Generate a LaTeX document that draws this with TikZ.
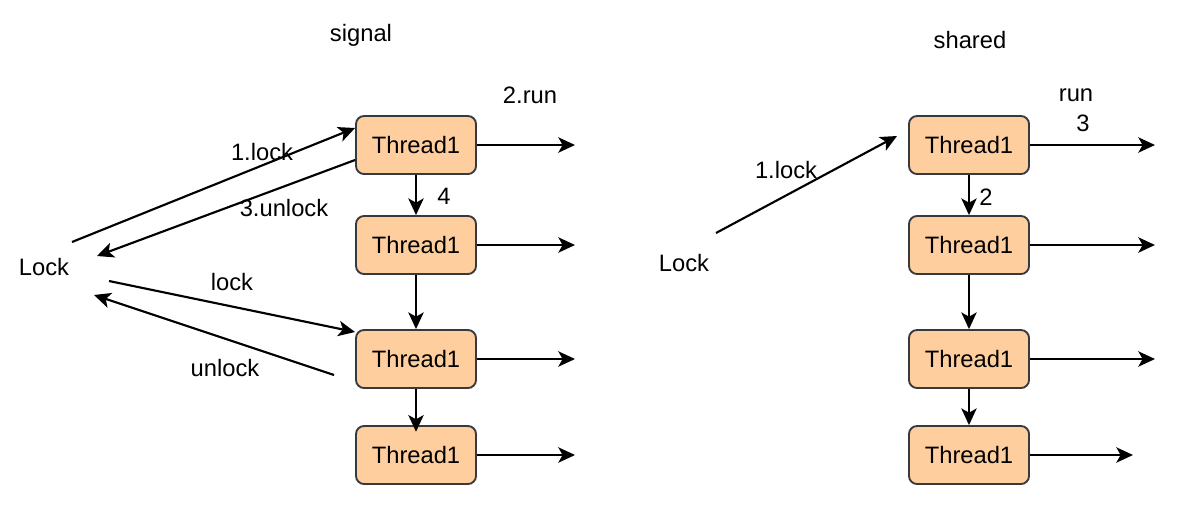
\documentclass[tikz,border=0pt]{standalone}
\usepackage{fontspec}
\setmainfont{Liberation Sans}
\usetikzlibrary{arrows.meta}
\definecolor{boxfill}{HTML}{FFCE9F}
\definecolor{boxline}{HTML}{36393D}
\begin{document}
\begin{tikzpicture}[x=0.75pt,y=-0.75pt,
  tbox/.style={draw=boxline,fill=boxfill,line width=1.4pt,rounded corners=6pt,
    minimum width=90pt,minimum height=43.5pt,inner sep=0pt,
    font=\fontsize{17.8}{20}\selectfont},
  lbl/.style={inner sep=0pt,font=\fontsize{17.8}{20}\selectfont},
  arr/.style={-{Stealth[length=12.5pt,width=11.5pt,inset=3.2pt]},line width=1.6pt,black}]
\useasboundingbox (0,0) rectangle (1196,526);
% titles
\node[lbl] (tsig) at (361,35) {signal};
\node[lbl] (tsha) at (970,40) {shared};
% left boxes
\node[tbox] (b1) at (416,145) {Thread1};
\node[tbox] (b2) at (416,245) {Thread1};
\node[tbox] (b3) at (416,359) {Thread1};
\node[tbox] (b4) at (416,455) {Thread1};
% right boxes
\node[tbox] (c1) at (969,145) {Thread1};
\node[tbox] (c2) at (969,245) {Thread1};
\node[tbox] (c3) at (969,359) {Thread1};
\node[tbox] (c4) at (969,455) {Thread1};
% left labels
\node[lbl] (lockL) at (44,267) {Lock};
\node[lbl] (run2) at (530,95) {2.run};
\node[lbl] (lk1) at (262,152) {1.lock};
\node[lbl] (ul3) at (284,208) {3.unlock};
\node[lbl] (lk) at (232,282) {lock};
\node[lbl] (ul) at (225,368) {unlock};
\node[lbl] (n4) at (444,196) {4};
% right labels
\node[lbl] (lockR) at (684,263) {Lock};
\node[lbl] (rlk1) at (786,170) {1.lock};
\node[lbl] (rrun) at (1076,95) {run};
\node[lbl] (r3) at (1083,123) {3};
\node[lbl] (r2) at (986,197) {2};
% free coordinates
\coordinate (l1s) at (72,242);
\coordinate (u3e) at (97,256);
\coordinate (l2s) at (109,281);
\coordinate (u2s) at (334,375);
\coordinate (u2e) at (94,295);
\coordinate (r1s) at (716,233);
\coordinate (r1e) at (897,136);
\coordinate (o1) at (575,145);
\coordinate (o2) at (575,245);
\coordinate (o3) at (575,359);
\coordinate (o4) at (575,455);
\coordinate (p1) at (1155,145);
\coordinate (p2) at (1155,245);
\coordinate (p3) at (1155,359);
\coordinate (p4) at (1133,455);
% left connectors
\draw[arr] (l1s) -- ([yshift=12.75pt]b1.west);
\draw[arr] ([yshift=-11.25pt]b1.west) -- (u3e);
\draw[arr] (l2s) -- ([yshift=20.25pt]b3.west);
\draw[arr] (u2s) -- (u2e);
\draw[arr] (b1) -- (b2);
\draw[arr] (b2) -- (b3);
\draw[arr] (b3) -- ([yshift=-5pt]b4.north);
\draw[arr] (b1.east) -- (o1);
\draw[arr] (b2.east) -- (o2);
\draw[arr] (b3.east) -- (o3);
\draw[arr] (b4.east) -- (o4);
% right connectors
\draw[arr] (r1s) -- (r1e);
\draw[arr] (c1) -- (c2);
\draw[arr] (c2) -- (c3);
\draw[arr] (c3) -- (c4);
\draw[arr] (c1.east) -- (p1);
\draw[arr] (c2.east) -- (p2);
\draw[arr] (c3.east) -- (p3);
\draw[arr] (c4.east) -- (p4);
\end{tikzpicture}
\end{document}
